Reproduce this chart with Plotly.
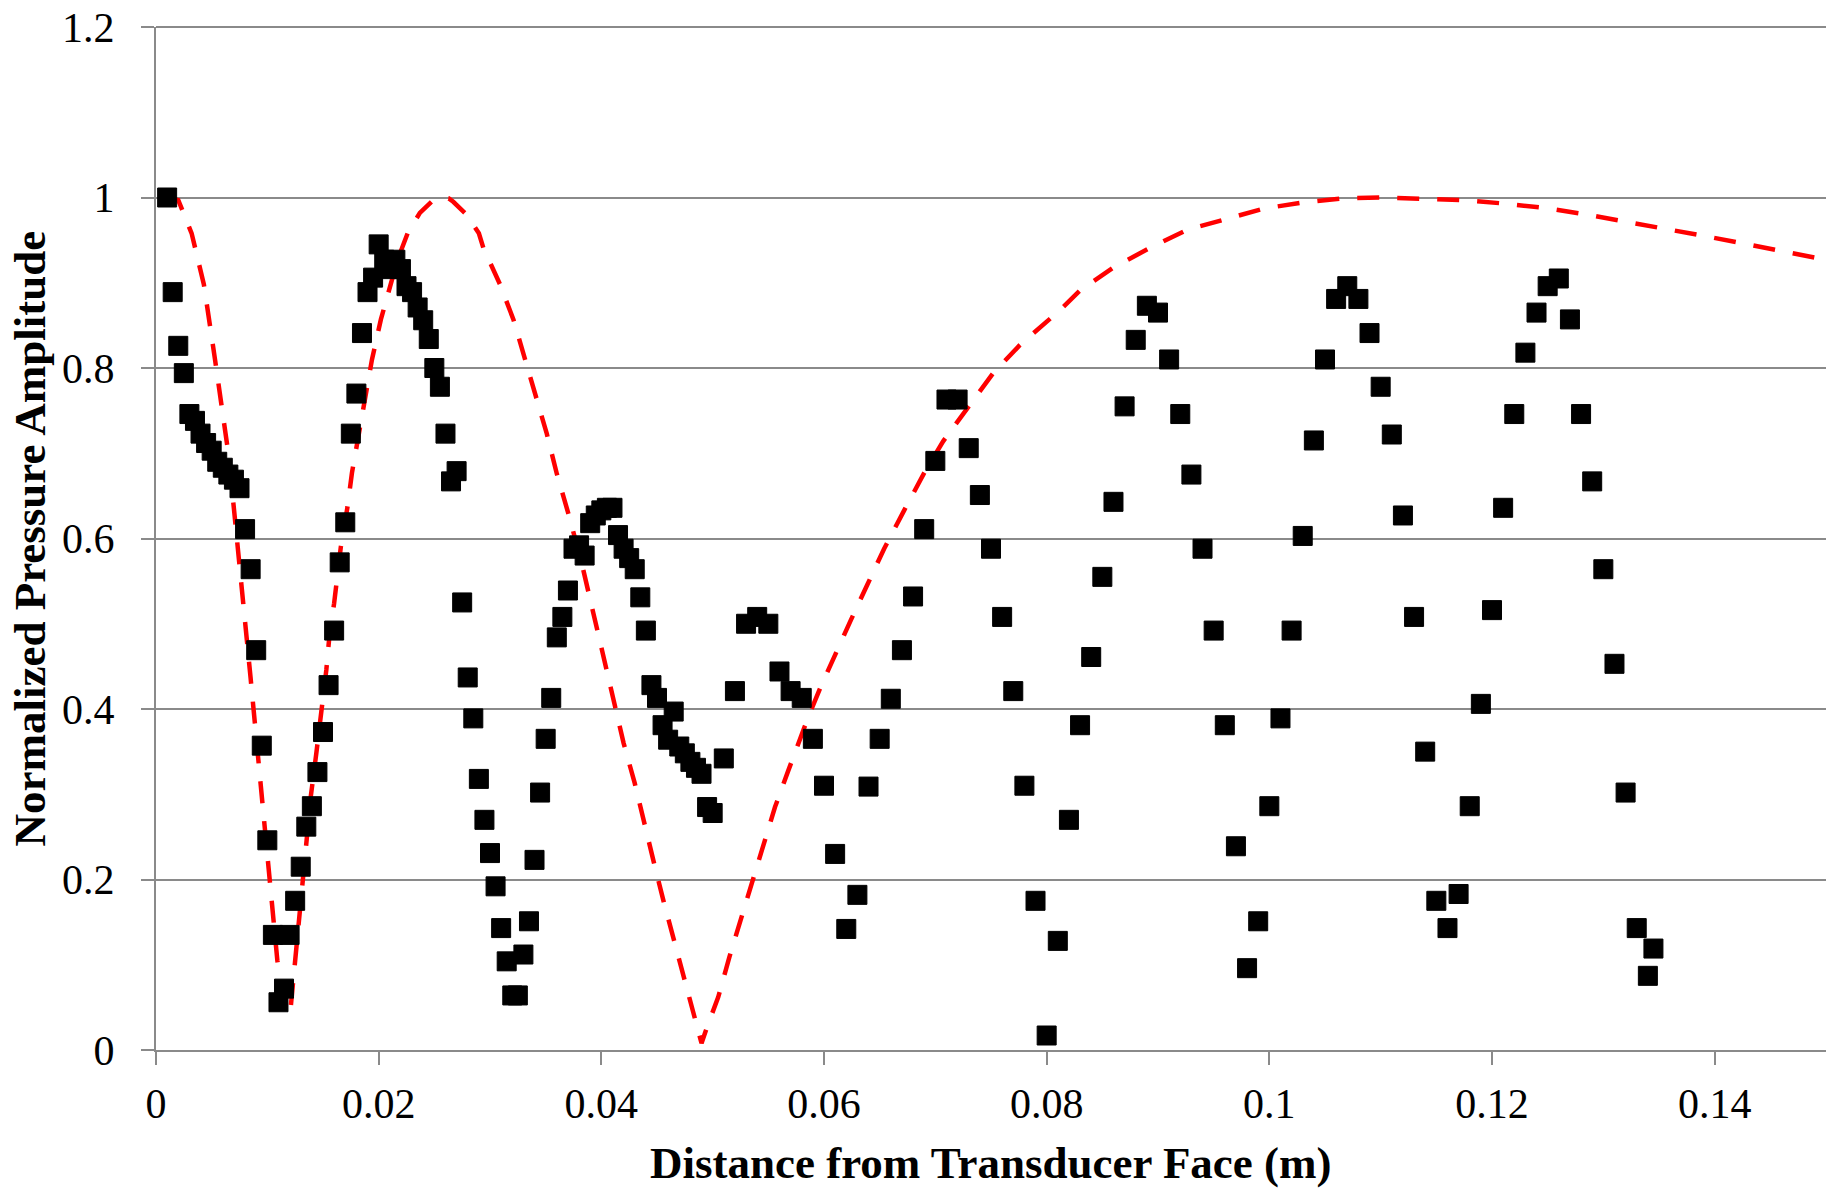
import plotly.graph_objects as go

# Measured on-axis pressure (normalized) vs. distance from the transducer face
distance_m = [
    0.0010, 0.0015, 0.0020, 0.0025, 0.0030, 0.0035, 0.0040, 0.0045, 0.0050, 0.0055,
    0.0060, 0.0065, 0.0070, 0.0075, 0.0080, 0.0085, 0.0090, 0.0095, 0.0100, 0.0105,
    0.0110, 0.0115, 0.0120, 0.0125, 0.0130, 0.0135, 0.0140, 0.0145, 0.0150, 0.0155,
    0.0160, 0.0165, 0.0170, 0.0175, 0.0180, 0.0185, 0.0190, 0.0195, 0.0200, 0.0205,
    0.0210, 0.0215, 0.0220, 0.0225, 0.0230, 0.0235, 0.0240, 0.0245, 0.0250, 0.0255,
    0.0260, 0.0265, 0.0270, 0.0275, 0.0280, 0.0285, 0.0290, 0.0295, 0.0300, 0.0305,
    0.0310, 0.0315, 0.0320, 0.0325, 0.0330, 0.0335, 0.0340, 0.0345, 0.0350, 0.0355,
    0.0360, 0.0365, 0.0370, 0.0375, 0.0380, 0.0385, 0.0390, 0.0395, 0.0400, 0.0405,
    0.0410, 0.0415, 0.0420, 0.0425, 0.0430, 0.0435, 0.0440, 0.0445, 0.0450, 0.0455,
    0.0460, 0.0465, 0.0470, 0.0475, 0.0480, 0.0485, 0.0490, 0.0495, 0.0500,
    0.051, 0.052, 0.053, 0.054, 0.055, 0.056, 0.057, 0.058, 0.059, 0.060,
    0.061, 0.062, 0.063, 0.064, 0.065, 0.066, 0.067, 0.068, 0.069, 0.070,
    0.071, 0.072, 0.073, 0.074, 0.075, 0.076, 0.077, 0.078, 0.079, 0.080,
    0.081, 0.082, 0.083, 0.084, 0.085, 0.086, 0.087, 0.088, 0.089, 0.090,
    0.091, 0.092, 0.093, 0.094, 0.095, 0.096, 0.097, 0.098, 0.099, 0.100,
    0.101, 0.102, 0.103, 0.104, 0.105, 0.106, 0.107, 0.108, 0.109, 0.110,
    0.111, 0.112, 0.113, 0.114, 0.115, 0.116, 0.117, 0.118, 0.119, 0.120,
    0.121, 0.122, 0.123, 0.124, 0.125, 0.126, 0.127, 0.128, 0.129, 0.130,
    0.131, 0.132, 0.133, 0.134, 0.1345,
]
pressure_measured = [
    1.000, 0.889, 0.826, 0.794, 0.746, 0.738, 0.723, 0.712, 0.703, 0.690,
    0.683, 0.675, 0.669, 0.659, 0.611, 0.564, 0.469, 0.357, 0.246, 0.135,
    0.056, 0.072, 0.135, 0.175, 0.215, 0.262, 0.286, 0.326, 0.373, 0.428,
    0.492, 0.572, 0.619, 0.723, 0.770, 0.841, 0.889, 0.906, 0.945, 0.927,
    0.916, 0.927, 0.916, 0.896, 0.889, 0.871, 0.856, 0.834, 0.800, 0.778,
    0.723, 0.667, 0.679, 0.525, 0.437, 0.389, 0.318, 0.270, 0.231, 0.192,
    0.143, 0.104, 0.064, 0.064, 0.112, 0.151, 0.223, 0.302, 0.365, 0.413,
    0.484, 0.508, 0.539, 0.588, 0.592, 0.580, 0.618, 0.627, 0.633, 0.636,
    0.636, 0.604, 0.588, 0.577, 0.564, 0.531, 0.492, 0.428, 0.413, 0.381,
    0.364, 0.397, 0.356, 0.348, 0.338, 0.331, 0.324, 0.285, 0.278,
    0.342, 0.421, 0.500, 0.508, 0.500, 0.444, 0.421, 0.413, 0.365, 0.310,
    0.230, 0.142, 0.182, 0.309, 0.365, 0.412, 0.469, 0.532, 0.611, 0.691,
    0.763, 0.763, 0.706, 0.651, 0.588, 0.508, 0.421, 0.310, 0.175, 0.017,
    0.128, 0.270, 0.381, 0.461, 0.555, 0.643, 0.755, 0.833, 0.873, 0.865,
    0.810, 0.746, 0.675, 0.588, 0.492, 0.381, 0.239, 0.096, 0.151, 0.286,
    0.389, 0.492, 0.603, 0.715, 0.810, 0.881, 0.896, 0.881, 0.841, 0.778,
    0.722, 0.627, 0.508, 0.350, 0.175, 0.143, 0.183, 0.286, 0.406, 0.516,
    0.636, 0.746, 0.818, 0.865, 0.896, 0.905, 0.857, 0.746, 0.667, 0.564,
    0.453, 0.302, 0.143, 0.087, 0.119,
]

# Theoretical on-axis pressure amplitude (normalized)
theory_distance_m = [
    0.0010, 0.0020, 0.0032, 0.0043, 0.0053, 0.0058, 0.0064, 0.0070, 0.0076, 0.0080,
    0.0085, 0.0090, 0.0095, 0.0100, 0.0105, 0.0109, 0.0113, 0.0118, 0.0121, 0.0125,
    0.0129, 0.0132, 0.0136, 0.0139, 0.0144, 0.0148, 0.0153, 0.0156, 0.0160, 0.0166,
    0.0172, 0.0176, 0.0181, 0.0187, 0.0194, 0.0202, 0.0209, 0.0217, 0.0226, 0.0237,
    0.0249, 0.0254, 0.0258, 0.0263, 0.0267, 0.0279, 0.0290, 0.0294, 0.0309, 0.0321,
    0.0333, 0.0342, 0.0351, 0.0360, 0.0372, 0.0384, 0.0396, 0.0405, 0.0411, 0.0420,
    0.0430, 0.0438, 0.0447, 0.0456, 0.0465, 0.0474, 0.0484, 0.0490, 0.0495, 0.0505,
    0.0515, 0.0525, 0.0536, 0.0546, 0.0556, 0.0568, 0.0579, 0.0586, 0.0597, 0.0610,
    0.0624, 0.0639, 0.0654, 0.0672, 0.0690, 0.0707, 0.0731, 0.0752, 0.0776, 0.0800,
    0.0812, 0.0830, 0.0860, 0.0893, 0.0926, 0.0962, 0.0995, 0.1029, 0.1067, 0.1103,
    0.1139, 0.1174, 0.1210, 0.1246, 0.1285, 0.1320, 0.1356, 0.1390, 0.1426, 0.1462,
    0.1500,
]
theory_pressure = [
    1.000, 0.997, 0.958, 0.898, 0.810, 0.763, 0.709, 0.635, 0.560, 0.505,
    0.436, 0.367, 0.298, 0.229, 0.160, 0.105, 0.070, 0.045, 0.050, 0.105,
    0.156, 0.203, 0.246, 0.297, 0.348, 0.391, 0.446, 0.489, 0.524, 0.590,
    0.637, 0.677, 0.716, 0.763, 0.810, 0.857, 0.892, 0.927, 0.958, 0.982,
    0.997, 0.999, 1.000, 0.999, 0.995, 0.980, 0.958, 0.941, 0.898, 0.857,
    0.804, 0.763, 0.723, 0.676, 0.622, 0.562, 0.494, 0.442, 0.406, 0.360,
    0.313, 0.268, 0.221, 0.174, 0.129, 0.084, 0.037, 0.008, 0.027, 0.062,
    0.109, 0.152, 0.199, 0.242, 0.285, 0.328, 0.367, 0.391, 0.426, 0.465,
    0.504, 0.546, 0.588, 0.633, 0.677, 0.714, 0.757, 0.794, 0.827, 0.854,
    0.868, 0.891, 0.918, 0.941, 0.962, 0.975, 0.987, 0.994, 0.999, 1.000,
    0.999, 0.997, 0.993, 0.988, 0.980, 0.972, 0.964, 0.955, 0.946, 0.937,
    0.927,
]

x_ticks = [0, 0.02, 0.04, 0.06, 0.08, 0.1, 0.12, 0.14]
y_ticks = [0, 0.2, 0.4, 0.6, 0.8, 1, 1.2]

GRID = "#8a8a8a"
FONT = "Liberation Serif"

fig = go.Figure()

fig.add_trace(go.Scatter(
    x=theory_distance_m, y=theory_pressure,
    mode="lines",
    line=dict(color="#ff0000", width=4.5, dash="22px,18px"),
    showlegend=False,
    hoverinfo="skip",
))

fig.add_trace(go.Scatter(
    x=distance_m, y=pressure_measured,
    mode="markers",
    marker=dict(symbol="square", size=19, color="#000000",
                line=dict(color="#000000", width=1)),
    showlegend=False,
))

fig.update_layout(
    width=1836, height=1189,
    margin=dict(l=156, r=10, t=27, b=139, pad=0, autoexpand=False),
    paper_bgcolor="white", plot_bgcolor="white",
    xaxis=dict(
        range=[0, 0.15], tickmode="array", tickvals=x_ticks,
        ticktext=[f"{v:g}" for v in x_ticks],
        showgrid=False, zeroline=False, automargin=False,
        showline=True, linecolor=GRID, linewidth=2,
        ticks="outside", ticklen=13, tickwidth=2, tickcolor=GRID,
        tickfont=dict(family=FONT, size=42, color="#000000"),
        ticklabelstandoff=3,
    ),
    yaxis=dict(
        range=[0, 1.2], tickmode="array", tickvals=y_ticks,
        ticktext=[f"{v:g}" for v in y_ticks],
        showgrid=True, gridcolor=GRID, gridwidth=2, zeroline=False,
        automargin=False,
        showline=True, linecolor=GRID, linewidth=2,
        ticks="outside", ticklen=13, tickwidth=2, tickcolor=GRID,
        tickfont=dict(family=FONT, size=42, color="#000000"),
        ticklabelstandoff=18,
    ),
    # gridline along the top edge of the plot area (value 1.2)
    shapes=[dict(type="line", xref="paper", yref="paper", x0=0, x1=1, y0=1, y1=1,
                 line=dict(color=GRID, width=2), layer="above")],
    annotations=[
        dict(text="<b>Distance from Transducer Face (m)</b>",
             xref="paper", yref="paper", x=0.5, y=0,
             xanchor="center", yanchor="middle", yshift=-113,
             showarrow=False, font=dict(family=FONT, size=45, color="#000000")),
        dict(text="<b>Normalized Pressure Amplitude</b>",
             xref="paper", yref="paper", x=0, y=0.5,
             xanchor="center", yanchor="middle", xshift=-127, textangle=-90,
             showarrow=False, font=dict(family=FONT, size=45, color="#000000")),
    ],
)

fig.write_html("out.html")
